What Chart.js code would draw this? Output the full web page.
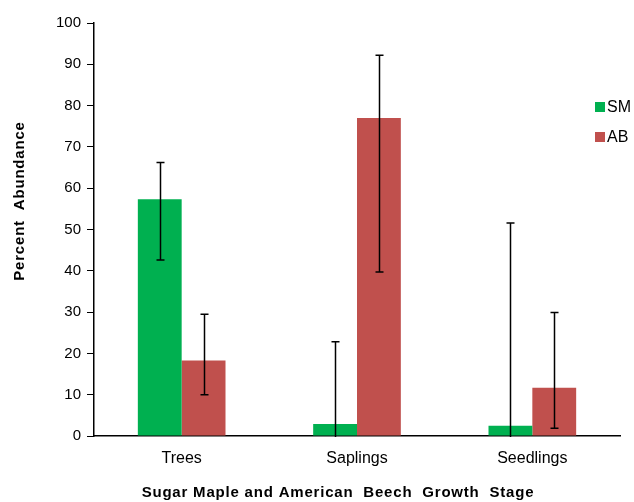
<!DOCTYPE html>
<html><head><meta charset="utf-8">
<script src="https://cdn.jsdelivr.net/npm/chart.js@4.4.1/dist/chart.umd.min.js"></script>
<style>html,body{margin:0;padding:0;background:#fff}#wrap{width:634px;height:502px}</style>
</head><body><div id="wrap"><canvas id="c" width="634" height="502"></canvas></div>
<script>
const categories = ['Trees', 'Saplings', 'Seedlings'];
const seriesLabels = ['SM', 'AB'];
const smValues = [57.3, 2.9, 2.5];
const abValues = [18.3, 77.0, 11.7];
const smErrLow = [42.6, -17.0, -46.6];
const smErrHigh = [66.2, 22.8, 51.6];
const abErrLow = [10.0, 39.7, 1.9];
const abErrHigh = [29.5, 92.2, 29.9];
const yTickValues = [0, 10, 20, 30, 40, 50, 60, 70, 80, 90, 100];
const xTitle = 'Sugar Maple and American  Beech  Growth  Stage';
const yTitle = 'Percent  Abundance';
const colors = ['#00B050', '#C0504D'];

const errLows = [smErrLow, abErrLow];
const errHighs = [smErrHigh, abErrHigh];

const FONT = 'Arial, "Liberation Sans", sans-serif';

const errorBarPlugin = {
  id: 'errorBars',
  afterDatasetsDraw(chart) {
    const ctx = chart.ctx;
    const ys = chart.scales.y;
    const area = chart.chartArea;
    ctx.save();
    ctx.beginPath();
    ctx.rect(area.left, area.top, area.right - area.left, area.bottom - area.top + 1);
    ctx.clip();
    ctx.strokeStyle = '#000';
    ctx.lineWidth = 1.5;
    chart.data.datasets.forEach((ds, i) => {
      const meta = chart.getDatasetMeta(i);
      meta.data.forEach((bar, j) => {
        const x = Math.round(bar.x) + 0.5;
        const yl = ys.getPixelForValue(errLows[i][j]);
        const yh = ys.getPixelForValue(errHighs[i][j]);
        ctx.beginPath();
        ctx.moveTo(x, yl); ctx.lineTo(x, yh);
        if (errHighs[i][j] >= 0) { ctx.moveTo(x - 4, yh); ctx.lineTo(x + 4, yh); }
        if (errLows[i][j] >= 0) { ctx.moveTo(x - 4, yl); ctx.lineTo(x + 4, yl); }
        ctx.stroke();
      });
    });
    ctx.restore();
  }
};

const decorPlugin = {
  id: 'decor',
  afterDraw(chart) {
    const ctx = chart.ctx;
    ctx.save();
    // legend
    ctx.font = '16px ' + FONT;
    ctx.textBaseline = 'middle';
    ctx.textAlign = 'left';
    chart.data.datasets.forEach((ds, i) => {
      const cy = 107 + i * 30;
      ctx.fillStyle = ds.backgroundColor;
      ctx.fillRect(595, cy - 5, 10, 10);
      ctx.fillStyle = '#000';
      ctx.fillText(ds.label, 607, cy + 1);
    });
    // axis titles
    ctx.font = 'bold 15px ' + FONT;
    try { ctx.letterSpacing = '0.8px'; } catch (e) {}
    ctx.textAlign = 'center';
    ctx.fillStyle = '#000';
    ctx.fillText(xTitle, 338, 493);
    ctx.translate(20, 201);
    ctx.rotate(-Math.PI / 2);
    ctx.fillText(yTitle, 0, 0);
    ctx.restore();
  }
};

new Chart(document.getElementById('c'), {
  type: 'bar',
  data: {
    labels: categories,
    datasets: [
      { label: seriesLabels[0], data: smValues, backgroundColor: colors[0] },
      { label: seriesLabels[1], data: abValues, backgroundColor: colors[1] }
    ]
  },
  options: {
    responsive: false,
    animation: false,
    events: [],
    layout: { padding: { left: 0, right: 14, top: 23, bottom: 0 } },
    datasets: { bar: { categoryPercentage: 0.5, barPercentage: 1.0, borderWidth: 0 } },
    plugins: { legend: { display: false }, tooltip: { enabled: false } },
    scales: {
      x: {
        grid: { display: false, drawTicks: false },
        border: { display: true, color: '#000', width: 1.5 },
        ticks: { color: '#000', padding: 13, font: { size: 16, family: FONT } },
        afterFit(s) { s.height = 66; }
      },
      y: {
        min: 0, max: 100,
        afterBuildTicks(s) { s.ticks = yTickValues.map(v => ({ value: v })); },
        grid: { display: true, drawOnChartArea: false, drawTicks: true, tickLength: 7, color: '#000', lineWidth: 1 },
        border: { display: true, color: '#000', width: 1.5 },
        ticks: { color: '#000', padding: 6, font: { size: 15, family: FONT } },
        afterFit(s) { s.width = 94; }
      }
    }
  },
  plugins: [errorBarPlugin, decorPlugin]
});
</script>
</body></html>
